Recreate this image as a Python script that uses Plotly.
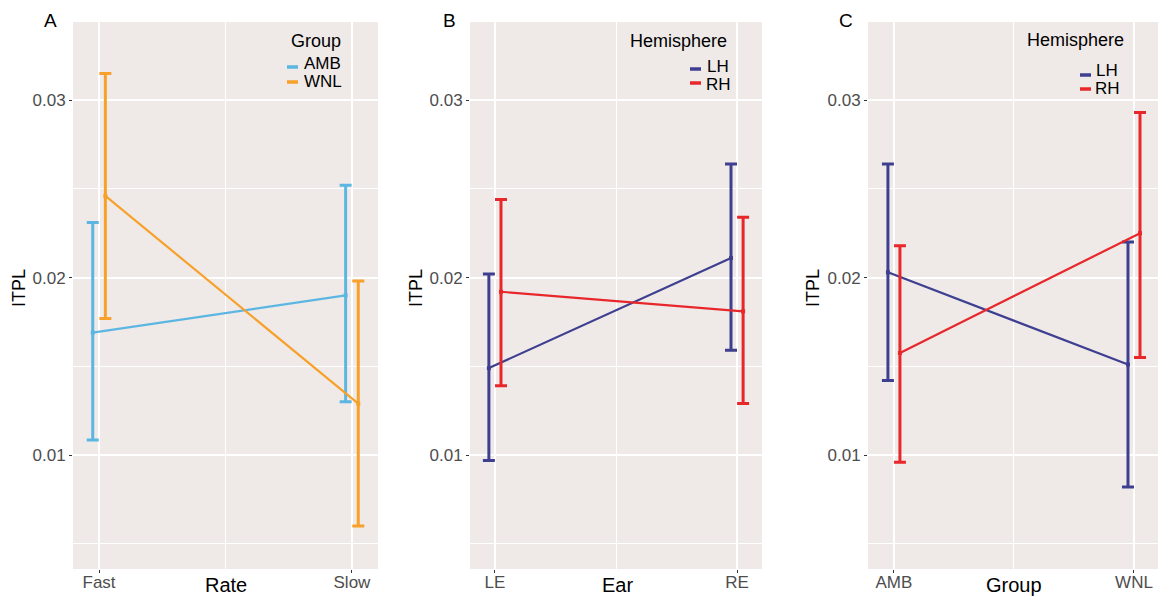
import plotly.graph_objects as go

W, H = 1158, 596

# ---------------- data ----------------
rate_cats = ["Fast", "Slow"]
amb_mean = [0.0169, 0.0190]
amb_upper = [0.0231, 0.0252]
amb_lower = [0.01085, 0.0130]
wnl_mean = [0.0246, 0.0129]
wnl_upper = [0.0315, 0.0198]
wnl_lower = [0.0177, 0.0060]

ear_cats = ["LE", "RE"]
ear_lh_mean = [0.0149, 0.0211]
ear_lh_upper = [0.0202, 0.0264]
ear_lh_lower = [0.0097, 0.0159]
ear_rh_mean = [0.0192, 0.0181]
ear_rh_upper = [0.0244, 0.0234]
ear_rh_lower = [0.0139, 0.0129]

group_cats = ["AMB", "WNL"]
grp_lh_mean = [0.0203, 0.0151]
grp_lh_upper = [0.0264, 0.0220]
grp_lh_lower = [0.0142, 0.0082]
grp_rh_mean = [0.01575, 0.0225]
grp_rh_upper = [0.0218, 0.0293]
grp_rh_lower = [0.0096, 0.0155]

y_ticks = [0.01, 0.02, 0.03]
y_minor = [0.005, 0.015, 0.025]

C_AMB = "#5CB6E2"
C_WNL = "#F7A02A"
C_LH = "#3E3F90"
C_RH = "#E8272B"
BG = "#EFEAE8"
FONT = "Liberation Sans, Arial, Helvetica, sans-serif"

DODGE = 0.025


def px(x):
    return x / W


def py(y):
    return 1 - y / H


fig = go.Figure()


def add_series(mean, upper, lower, color, side, ax):
    xs = [i + 1 + side * DODGE for i in range(len(mean))]
    fig.add_trace(go.Scatter(
        x=xs, y=mean, mode="lines+markers",
        line=dict(color=color, width=2.2),
        marker=dict(color=color, size=4, symbol="square"),
        error_y=dict(type="data", symmetric=False,
                     array=[u - m for u, m in zip(upper, mean)],
                     arrayminus=[m - l for m, l in zip(mean, lower)],
                     color=color, thickness=3, width=6),
        xaxis="x" + ax, yaxis="y" + ax, showlegend=False, hoverinfo="skip"))


add_series(amb_mean, amb_upper, amb_lower, C_AMB, -1, "")
add_series(wnl_mean, wnl_upper, wnl_lower, C_WNL, 1, "")
add_series(ear_lh_mean, ear_lh_upper, ear_lh_lower, C_LH, -1, "2")
add_series(ear_rh_mean, ear_rh_upper, ear_rh_lower, C_RH, 1, "2")
add_series(grp_lh_mean, grp_lh_upper, grp_lh_lower, C_LH, -1, "3")
add_series(grp_rh_mean, grp_rh_upper, grp_rh_lower, C_RH, 1, "3")

y_dom = [py(569), py(22)]
panels = [
    ("", (73, 378), [0.897, 2.103], rate_cats),
    ("2", (470, 762), [0.897, 2.103], ear_cats),
    ("3", (868, 1158), [0.892, 2.1], group_cats),
]

layout = dict(
    width=W, height=H, margin=dict(l=0, r=0, t=0, b=0, autoexpand=False),
    paper_bgcolor="white", plot_bgcolor=BG,
    font=dict(family=FONT, color="#4D4D4D", size=16),
    showlegend=False,
)

for ax, (x0, x1), xr, cats in panels:
    layout["xaxis" + ax] = dict(
        domain=[px(x0), px(x1)], range=xr, anchor="y" + ax, automargin=False,
        tickvals=[1, 2], ticktext=cats, showgrid=True, gridcolor="white",
        gridwidth=2, zeroline=False, ticks="outside", ticklen=3,
        tickcolor="#333333", tickwidth=1, showline=False,
        ticklabelstandoff=-5,
        tickfont=dict(size=17, color="#4D4D4D"),
        minor=dict(tickvals=[1.5], showgrid=True, gridcolor="white",
                   gridwidth=1, ticks=""),
    )
    layout["yaxis" + ax] = dict(
        domain=y_dom, range=[0.00358, 0.0344], anchor="x" + ax, automargin=False,
        tickvals=y_ticks, tickformat=".2f", showgrid=True, gridcolor="white",
        gridwidth=2, zeroline=False, ticks="outside", ticklen=3,
        tickcolor="#333333", tickwidth=1, showline=False,
        tickfont=dict(size=17, color="#4D4D4D"),
        minor=dict(tickvals=y_minor, showgrid=True, gridcolor="white",
                   gridwidth=1, ticks=""),
    )

fig.update_layout(**layout)

ann = []


def text(x, y, t, size=17, color="black", xanchor="center", textangle=0):
    ann.append(dict(x=px(x), y=py(y), xref="paper", yref="paper", text=t,
                    showarrow=False, xanchor=xanchor, yanchor="middle",
                    textangle=textangle,
                    font=dict(family=FONT, size=size, color=color)))


# panel letters
text(51, 21, "A", 19)
text(449, 21, "B", 19)
text(846, 21, "C", 19)

# axis titles
text(226, 585, "Rate", 20)
text(617, 585, "Ear", 20)
text(1014, 585, "Group", 20)
for xx in (19, 416, 813):
    text(xx, 288, "ITPL", 18, textangle=-90)

shapes = []


def legend_item(gx0, gy, label, color, tx, ty):
    shapes.append(dict(type="line", xref="paper", yref="paper",
                       x0=px(gx0), x1=px(gx0 + 11), y0=py(gy), y1=py(gy),
                       line=dict(color=color, width=3.5)))
    text(tx, ty, label, 17, xanchor="left")


# legend A
text(289, 41, "Group", 18, xanchor="left")
legend_item(287, 67, "AMB", C_AMB, 302, 64)
legend_item(287, 82, "WNL", C_WNL, 302, 81)

# legend B
text(628, 41, "Hemisphere", 18, xanchor="left")
legend_item(690, 69, "LH", C_LH, 705, 66)
legend_item(690, 83, "RH", C_RH, 704, 85)

# legend C
text(1025, 40, "Hemisphere", 18, xanchor="left")
legend_item(1080, 75, "LH", C_LH, 1094, 70)
legend_item(1080, 89, "RH", C_RH, 1093, 88)

fig.update_layout(annotations=ann, shapes=shapes)

fig.write_html(
    "out.html",
    config={"displayModeBar": False},
    post_script="document.body.style.margin='0';document.body.style.overflow='hidden';",
)
